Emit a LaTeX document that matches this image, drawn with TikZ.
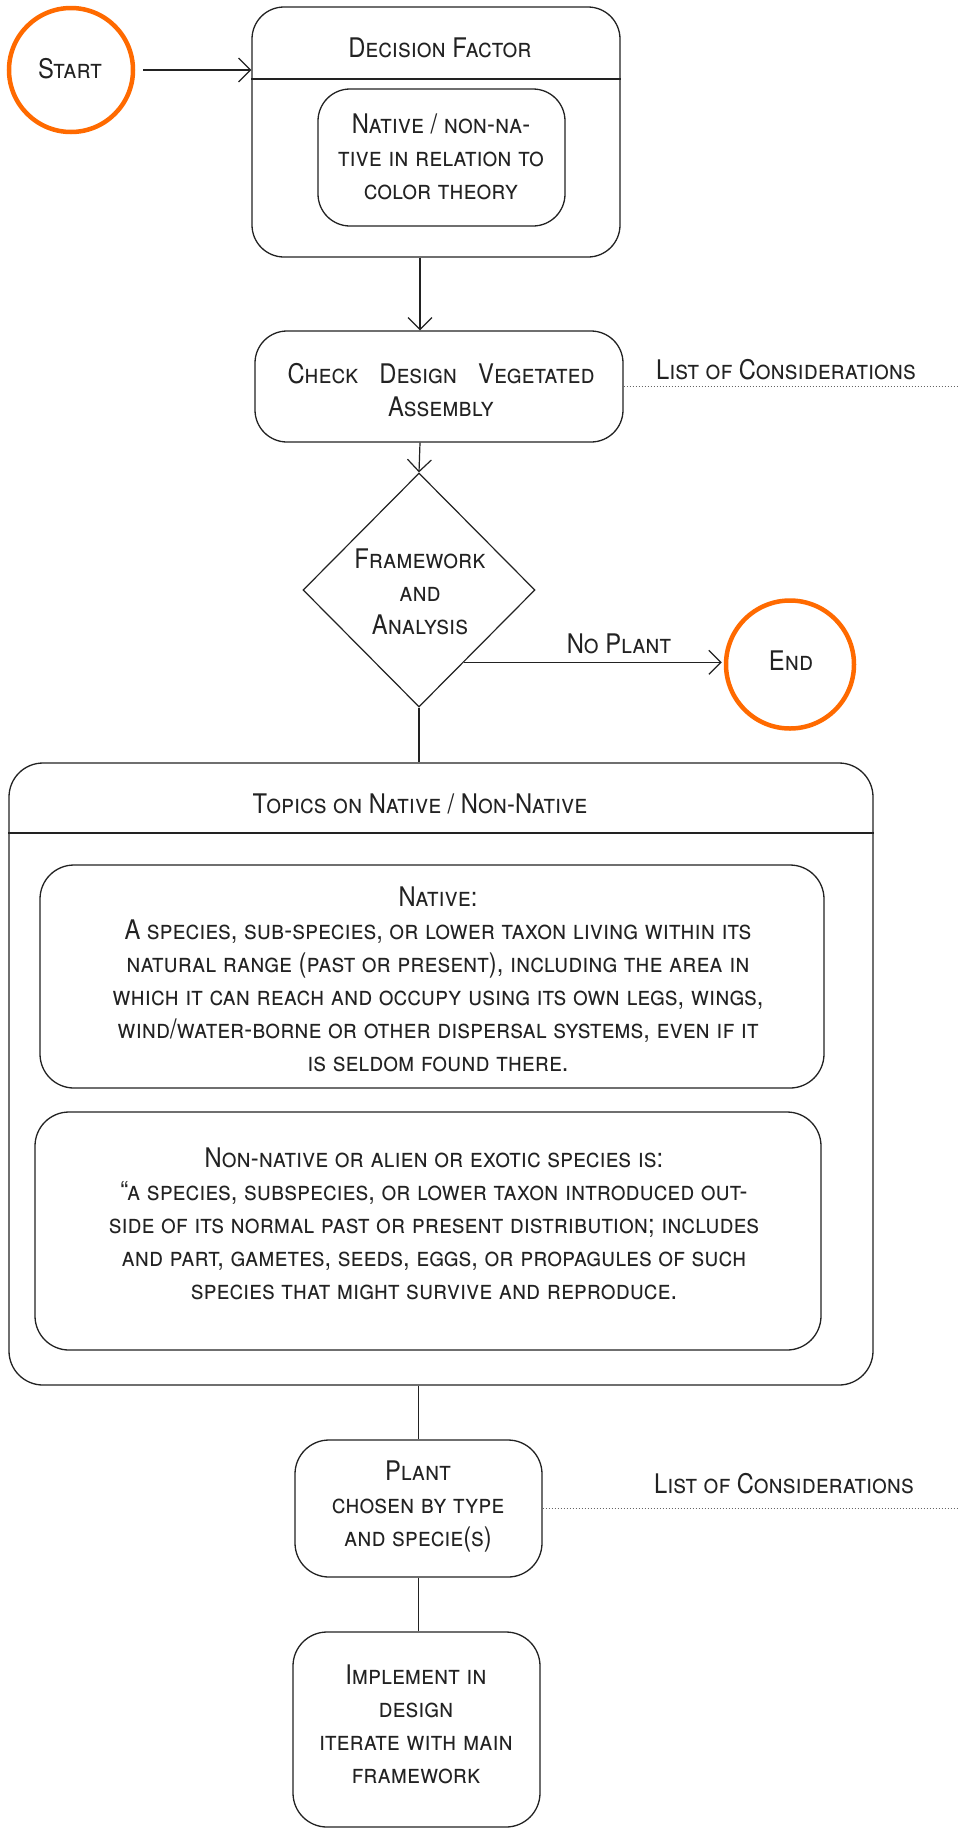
\documentclass[tikz,border=0pt]{standalone}
\usepackage{fontspec}
\setmainfont{TeX Gyre Heros}[FakeStretch=0.88]
\usetikzlibrary{shapes.geometric,arrows.meta,calc}
\definecolor{ink}{HTML}{222222}
\definecolor{flame}{HTML}{FF6A00}
\definecolor{dotgray}{HTML}{666666}

\begin{document}
\begin{tikzpicture}[x=1pt,y=-1pt,
  font=\fontsize{27}{33}\selectfont\scshape,
  box/.style={draw=ink, line width=1.3pt, rounded corners=32pt, inner sep=0pt},
  term/.style={circle, draw=flame, line width=4.5pt, minimum size=124pt, inner sep=0pt},
  txt/.style={text=ink, inner sep=0pt, align=center},
  flow/.style={draw=ink, line width=1.2pt, -{Straight Barb[length=12pt,width=24pt,line width=1.2pt]}},
  link/.style={draw=ink, line width=1.2pt},
  note/.style={draw=dotgray, line width=1pt, dotted}]

% page
\fill[white] (0,0) rectangle (959,1829);
\useasboundingbox (0,0) rectangle (959,1829);
\coordinate (rim) at (959,0);
\coordinate (spine) at (420,0);

% start terminal
\node[term] (start) at (71,70) {};
\node[txt, anchor=base] (startlbl) at (70,78) {Start};

% decision factor container
\node[box, minimum width=368pt, minimum height=250pt] (dec) at (436,132) {};
\coordinate (dechead) at (0,79);
\draw[link] (dec.west |- dechead) -- (dec.east |- dechead);
\node[txt, anchor=base] (dectitle) at (440,57) {Decision Factor};
\node[box, minimum width=247pt, minimum height=137pt] (decin) at (441.5,157.5) {};
\node[txt] (decintxt) at (441,156.5) {Native / non-na-\\tive in relation to\\color theory};

% check design
\node[box, minimum width=368pt, minimum height=111pt] (check) at (439,386.5) {};
\node[txt] (checktxt) at (441,390) {\makebox[307pt][s]{Check Design Vegetated}\\Assembly};
\node[txt, anchor=base] (list1) at (786,379) {List of Considerations};

% framework decision
\node[diamond, draw=ink, line width=1.2pt, minimum width=232pt, minimum height=234pt, inner sep=0pt] (dia) at (419,590) {};
\node[txt] (diatxt) at (420,592) {Framework\\and\\Analysis};

% end terminal
\node[term, minimum size=128pt] (end) at (790,664.5) {};
\node[txt, anchor=base] (endlbl) at (791,670) {End};

% topics container
\node[box, minimum width=864pt, minimum height=622pt, rounded corners=34pt] (topics) at (441,1074) {};
\coordinate (tophead) at (0,833);
\draw[link] (topics.west |- tophead) -- (topics.east |- tophead);
\node[txt, anchor=base] (topictitle) at (420,813) {Topics on Native / Non-Native};

\node[box, minimum width=784pt, minimum height=223pt, rounded corners=34pt] (native) at (432,976.5) {};
\node[txt] (nativetxt) at (438,979) {Native:\\A species, sub-species, or lower taxon living within its\\natural range (past or present), including the area in\\which it can reach and occupy using its own legs, wings,\\wind/water-borne or other dispersal systems, even if it\\is seldom found there.};

\node[box, minimum width=786pt, minimum height=238pt, rounded corners=34pt] (alien) at (428,1231) {};
\node[txt] (alientxt) at (434,1224) {Non-native or alien or exotic species is:\\“a species, subspecies, or lower taxon introduced out-\\side of its normal past or present distribution; includes\\and part, gametes, seeds, eggs, or propagules of such\\species that might survive and reproduce.};

% plant
\node[box, minimum width=247pt, minimum height=137pt, rounded corners=34pt] (plant) at (418.5,1508.5) {};
\node[txt] (planttxt) at (418,1506) {Plant\\chosen by type\\and specie(s)};
\node[txt, anchor=base] (list2) at (784,1493) {List of Considerations};

% implement
\node[box, minimum width=247pt, minimum height=195pt, rounded corners=34pt] (impl) at (416.5,1729.5) {};
\node[txt] (impltxt) at (416,1724) {Implement in\\design\\iterate with main\\framework};

% connectors
\draw[flow, shorten <=8pt] (start) -- (start -| dec.west);
\draw[flow] (dec.south -| spine) -- (check.north -| spine);
\draw[flow] (check.south -| spine) -- (dia.north);
\coordinate (nop) at ($(dia.east)!0.615!(dia.south)$);
\draw[flow, shorten >=2pt] (nop) -- (nop -| end.west);
\node[txt, anchor=base] (noplbl) at (619,653) {No Plant};
\draw[link] (dia.south) -- (dia.south |- topics.north);
\draw[link] (topics.south -| plant.north) -- (plant.north);
\draw[link] (plant.south) -- (plant.south |- impl.north);

% consideration leaders
\draw[note] (check.east) -- (check.east -| rim);
\draw[note] (plant.east) -- (plant.east -| rim);
\end{tikzpicture}
\end{document}
